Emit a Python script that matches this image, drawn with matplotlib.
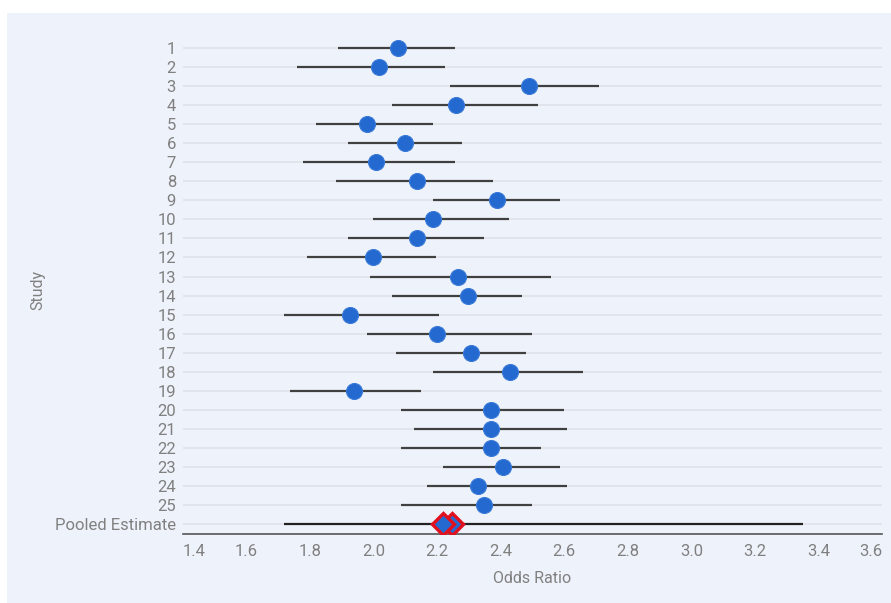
import numpy as np
import matplotlib.pyplot as plt
from matplotlib.patches import Rectangle

plt.rcParams['font.family'] = ['Roboto', 'DejaVu Sans']

# study estimates
studies = [str(i) for i in range(1, 26)]
odds = [2.077, 2.017, 2.488, 2.259, 1.978, 2.098, 2.006, 2.138, 2.387, 2.187,
        2.136, 1.998, 2.267, 2.298, 1.927, 2.198, 2.308, 2.428, 1.937, 2.368,
        2.368, 2.368, 2.408, 2.329, 2.348]
ci_low = [1.888, 1.759, 2.240, 2.059, 1.819, 1.919, 1.778, 1.880, 2.188, 1.999,
          1.918, 1.789, 1.987, 2.059, 1.719, 1.979, 2.070, 2.188, 1.738, 2.087,
          2.128, 2.087, 2.218, 2.169, 2.087]
ci_high = [2.257, 2.225, 2.708, 2.518, 2.187, 2.278, 2.256, 2.377, 2.587, 2.427,
           2.346, 2.196, 2.559, 2.467, 2.206, 2.499, 2.478, 2.659, 2.149, 2.598,
           2.610, 2.528, 2.588, 2.610, 2.499]

pooled_label = "Pooled Estimate"
pooled_points = [2.248, 2.217]
pooled_ci = (1.719, 3.352)

xticks = [1.4, 1.6, 1.8, 2.0, 2.2, 2.4, 2.6, 2.8, 3.0, 3.2, 3.4, 3.6]

BG = "#eef2fa"
BLUE = "#2469cf"
GRAY_TXT = "#808080"

fig = plt.figure(figsize=(8.91, 6.03), dpi=100)
fig.patch.set_facecolor("white")
fig.patches.append(Rectangle((7 / 891, 0), 1 - 7 / 891, 1 - 13 / 603,
                             transform=fig.transFigure, facecolor=BG,
                             edgecolor="none", zorder=-10))

ax = fig.add_axes([183 / 891, 1 - 534 / 603, (882 - 183) / 891, (534 - 38.5) / 603])
ax.set_facecolor(BG)

labels = studies + [pooled_label]
ypos = np.arange(1, len(labels) + 1)

for y in ypos:
    ax.axhline(y, color="#dfe2e8", lw=1.2, zorder=1)

ax.hlines(ypos[:-1], ci_low, ci_high, color="#404040", lw=1.6, zorder=2)
ax.plot(odds, ypos[:-1], "o", color=BLUE, markersize=11.5,
        markeredgecolor="#3a7ad8", markeredgewidth=0.8, zorder=3)

ax.hlines(ypos[-1], pooled_ci[0], pooled_ci[1], color="#222222", lw=1.6, zorder=2)
for p in pooled_points:
    ax.plot(p, ypos[-1], "D", color=BLUE, markersize=11,
            markeredgecolor="#e0101e", markeredgewidth=2.4, zorder=4)

ax.set_xlim(1.4, 3.6)
ax.set_ylim(26.52, 0.5)
ax.set_yticks(ypos)
ax.set_yticklabels(labels)
ax.set_xticks(xticks)
ax.set_xticklabels(["%.1f" % t for t in xticks])
ax.tick_params(axis="both", length=0, labelsize=12, labelcolor=GRAY_TXT)
ax.tick_params(axis="y", pad=5)
ax.tick_params(axis="x", pad=7)
xl = ax.get_xticklabels()
xl[0].set_ha("left")
xl[-1].set_ha("right")

for s in ["top", "right", "left"]:
    ax.spines[s].set_visible(False)
ax.spines["bottom"].set_color("#555555")
ax.spines["bottom"].set_linewidth(1.2)

ax.set_xlabel("Odds Ratio", fontsize=11.5, color=GRAY_TXT, labelpad=9)
fig.text(38 / 891, 1 - 290 / 603, "Study", rotation=90, fontsize=11.5,
         color=GRAY_TXT, ha="center", va="center")

plt.savefig("out.png", dpi=100)
